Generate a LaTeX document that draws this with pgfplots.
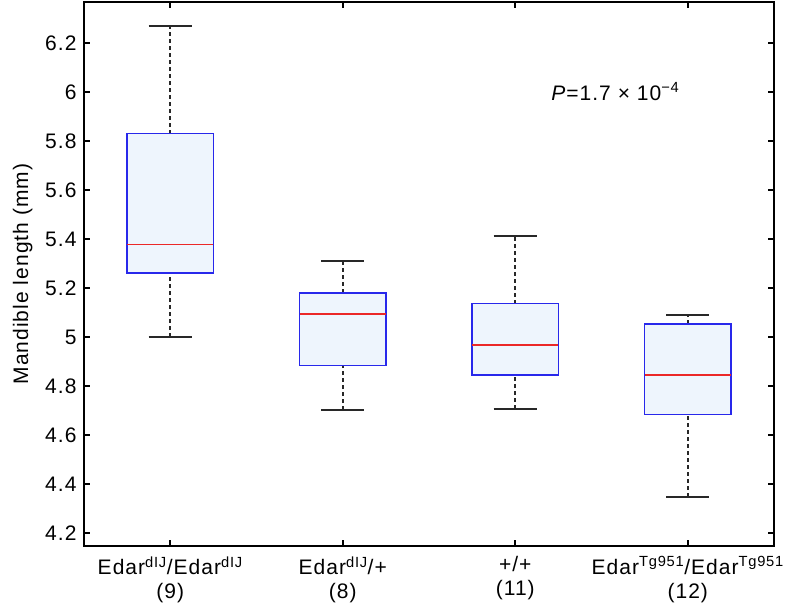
\documentclass[border=0pt]{standalone}
\usepackage{fontspec}
\setmainfont{Liberation Sans}[LetterSpace=5]
\usepackage{pgfplots}
\pgfplotsset{compat=1.18}
\usepgfplotslibrary{statistics}
\definecolor{boxedge}{RGB}{40,40,235}
\definecolor{boxfill}{RGB}{238,245,253}
\definecolor{medred}{RGB}{235,40,40}
\definecolor{whisk}{RGB}{40,40,40}
\begin{document}
\begin{tikzpicture}
\begin{axis}[
  scale only axis, width=690pt, height=544pt,
  at={(0,0)}, anchor=south west,
  xmin=0.5, xmax=4.5, ymin=4.147, ymax=6.367,
  xtick={1,2,3,4},
  xticklabels={{Edar\textsuperscript{dIJ}/Edar\textsuperscript{dIJ}\\(9)},
               {Edar\textsuperscript{dIJ}/+\\(8)},
               {+/+\\(11)},
               {Edar\textsuperscript{Tg951}/Edar\textsuperscript{Tg951}\\(12)}},
  xticklabel style={align=center, font=\fontsize{21}{24}\selectfont, yshift=-7pt},
  ytick={4.2,4.4,4.6,4.8,5,5.2,5.4,5.6,5.8,6,6.2},
  yticklabel style={font=\fontsize{21}{24}\selectfont, xshift=-4pt},
  /pgf/number format/assume math mode=true,
  tick align=inside, xtick pos=both, ytick pos=both,
  major tick length=6pt,
  every tick/.style={black, line width=1.6pt},
  axis line style={black, line width=2.2pt},
  ylabel={Mandible length (mm)},
  ylabel style={at={(axis description cs:-0.089,0.5)}, anchor=center, font=\fontsize{21}{24}\selectfont},
  boxplot/draw direction=y,
  boxplot/box extend=0.5,
  boxplot/whisker extend=0.25,
  boxplot/every box/.style={draw=boxedge, fill=boxfill, line width=1.5pt},
  boxplot/every median/.style={draw=medred, line width=1.5pt},
  boxplot/draw/lower whisker/.code={
    \draw[whisk, line width=1.8pt, dash pattern=on 4pt off 3pt]
      (boxplot box cs:\pgfplotsboxplotvalue{lower whisker},0.5) -- (boxplot box cs:\pgfplotsboxplotvalue{lower quartile},0.5);
    \draw[whisk, line width=1.8pt]
      (boxplot whisker cs:\pgfplotsboxplotvalue{lower whisker},0) -- (boxplot whisker cs:\pgfplotsboxplotvalue{lower whisker},1);
  },
  boxplot/draw/upper whisker/.code={
    \draw[whisk, line width=1.8pt, dash pattern=on 4pt off 3pt]
      (boxplot box cs:\pgfplotsboxplotvalue{upper quartile},0.5) -- (boxplot box cs:\pgfplotsboxplotvalue{upper whisker},0.5);
    \draw[whisk, line width=1.8pt]
      (boxplot whisker cs:\pgfplotsboxplotvalue{upper whisker},0) -- (boxplot whisker cs:\pgfplotsboxplotvalue{upper whisker},1);
  },
]
\addplot[boxplot prepared={draw position=1, lower whisker=5.001, lower quartile=5.262, median=5.378, upper quartile=5.83, upper whisker=6.27}] coordinates {};
\addplot[boxplot prepared={draw position=2, lower whisker=4.702, lower quartile=4.884, median=5.094, upper quartile=5.180, upper whisker=5.310}] coordinates {};
\addplot[boxplot prepared={draw position=3, lower whisker=4.706, lower quartile=4.845, median=4.967, upper quartile=5.136, upper whisker=5.411}] coordinates {};
\addplot[boxplot prepared={draw position=4, lower whisker=4.348, lower quartile=4.684, median=4.845, upper quartile=5.052, upper whisker=5.089}] coordinates {};
\node[font=\fontsize{21}{24}\selectfont, anchor=base] at (axis cs:3.58,5.967) {\textit{P}=1.7 × 10\textsuperscript{−4}};
\end{axis}
\pgfresetboundingbox
\path (-84pt,-67pt) rectangle (702pt,546pt);
\end{tikzpicture}
\end{document}
